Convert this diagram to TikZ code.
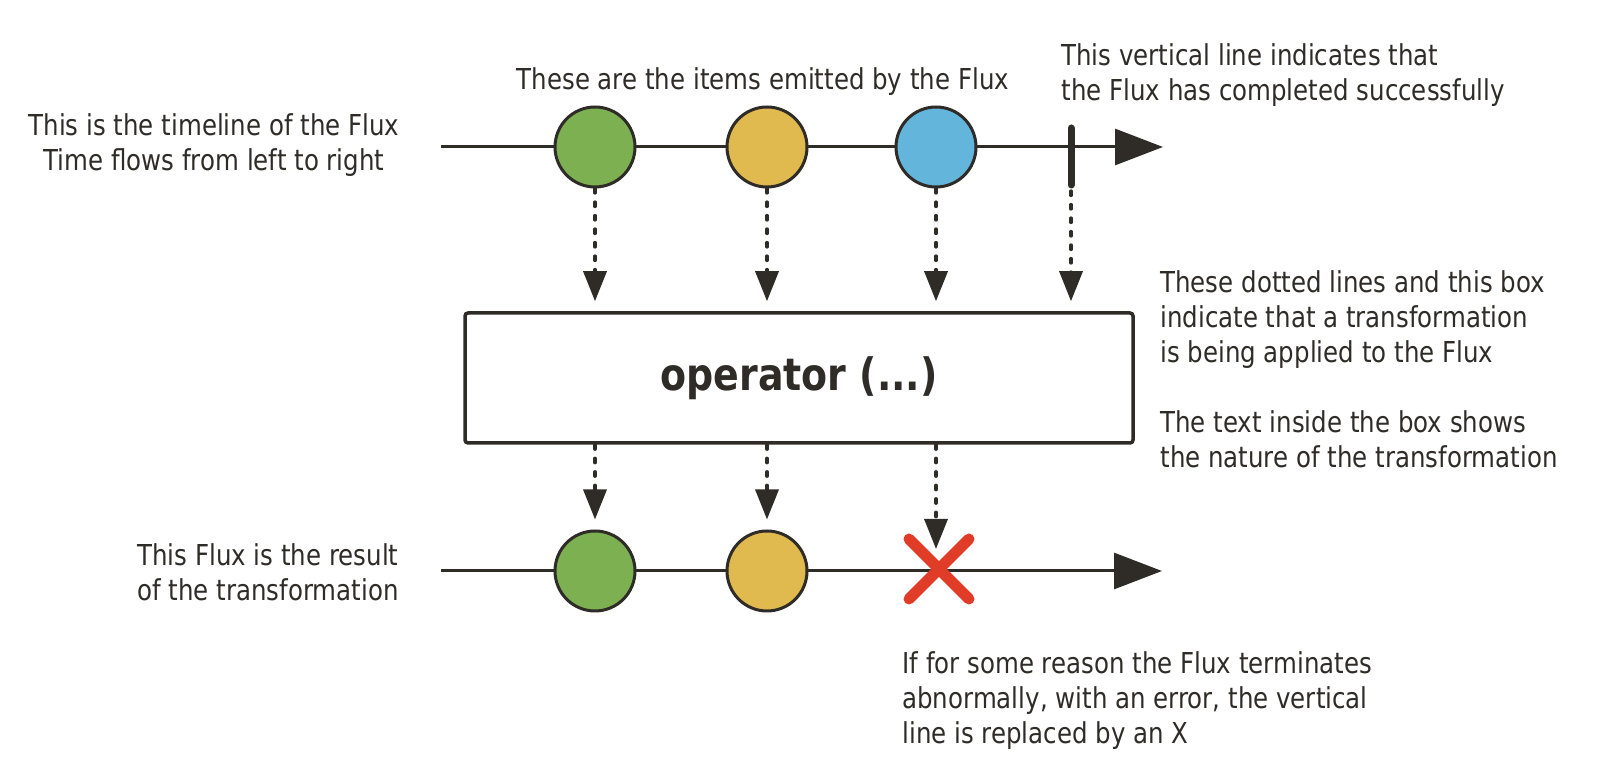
\documentclass[tikz,border=0pt]{standalone}
\usepackage{fontspec}
\setmainfont{DejaVu Sans}[FakeStretch=0.85]
\usetikzlibrary{arrows.meta,shapes.misc}
\definecolor{ink}{HTML}{2F2B27}
\definecolor{mgreen}{HTML}{7DB050}
\definecolor{myellow}{HTML}{E0BA4E}
\definecolor{mblue}{HTML}{63B5DC}
\definecolor{xred}{HTML}{E03C28}
\begin{document}
\begin{tikzpicture}[x=0.5pt,y=-0.5pt,
  timeline/.style={draw=ink,line width=1.5pt,-{Triangle[length=24pt,width=18pt]}},
  marble/.style={circle,draw=ink,line width=1.5pt,minimum size=40pt,inner sep=0pt},
  flow/.style={draw=ink,line width=1.65pt,line cap=round,dash pattern=on 2.25pt off 4.5pt,
    -{Triangle[length=15pt,width=11.5pt,line cap=butt]},shorten >=5pt},
  opbox/.style={draw=ink,line width=1.75pt,rounded corners=1.5pt,minimum width=334pt,
    minimum height=65pt,inner sep=0pt,font=\fontsize{22.3}{27}\selectfont\bfseries,text=ink},
  label/.style={inner sep=0pt,text=ink,font=\fontsize{14.4}{17.5}\selectfont},
  errx/.style={cross out,draw=xred,line width=5.5pt,line cap=round,minimum size=24.5pt,inner sep=0pt},
  done/.style={draw=ink,line width=3.5pt,line cap=round}]
\useasboundingbox (0,0) rectangle (1608,758);

% timelines
\coordinate (t1s) at (441,147);
\coordinate (t1e) at (1163,147);
\coordinate (t2s) at (441,571);
\coordinate (t2e) at (1162,571);
\draw[timeline] (t1s) -- (t1e);
\draw[timeline] (t2s) -- (t2e);

% completion bar
\coordinate (ct) at (1071,128);
\coordinate (cb) at (1071,185);
\draw[done] (ct) -- (cb);

% marbles
\node[marble,fill=mgreen] (g1) at (595,147) {};
\node[marble,fill=myellow] (y1) at (767,147) {};
\node[marble,fill=mblue] (b1) at (936,147) {};
\node[marble,fill=mgreen] (g2) at (595,571) {};
\node[marble,fill=myellow] (y2) at (767,571) {};

% operator box
\node[opbox] (box) at (799,378) {operator (...)};

% error cross
\node[errx] (err) at (939,569) {};
\coordinate (errtip) at (936,549);

% dotted flows
\draw[flow] (g1.south) -- (g1.south |- box.north);
\draw[flow] (y1.south) -- (y1.south |- box.north);
\draw[flow] (b1.south) -- (b1.south |- box.north);
\draw[flow] ([yshift=-3pt]cb) -- (cb |- box.north);
\draw[flow] (g1.south |- box.south) -- (g2.north);
\draw[flow] (y1.south |- box.south) -- (y2.north);
\draw[flow,shorten >=0pt] (b1.south |- box.south) -- (errtip);

% labels (base anchor = baseline of the last line)
\node[label,align=center,anchor=base] (l1) at (214,171)
  {This is the timeline of the Flux\\Time flows from left to right};
\node[label,anchor=base] (l2) at (763,90) {These are the items emitted by the Flux};
\node[label,align=left,anchor=base west] (l3) at (1061,101)
  {This vertical line indicates that\\the Flux has completed successfully};
\node[label,align=left,anchor=base west] (l4) at (1160,468)
  {These dotted lines and this box\\indicate that a transformation\\is being applied to the Flux\\[17.5pt]The text inside the box shows\\the nature of the transformation};
\node[label,align=left,anchor=base west] (l5) at (137,601)
  {This Flux is the result\\of the transformation};
\node[label,align=left,anchor=base west] (l6) at (902,744)
  {If for some reason the Flux terminates\\abnormally, with an error, the vertical\\line is replaced by an X};
\end{tikzpicture}
\end{document}
